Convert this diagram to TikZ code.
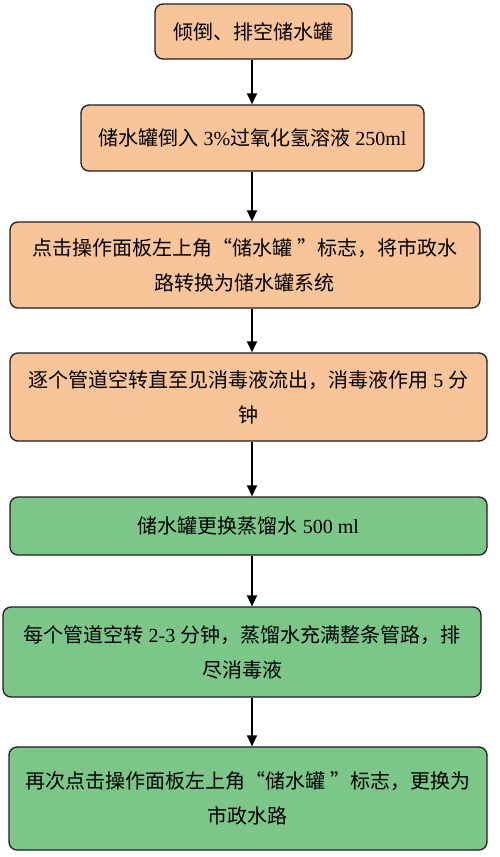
\documentclass[tikz,border=0pt]{standalone}
\usepackage{fontspec}
\setmainfont{Liberation Serif}
\newfontfamily\cjk{Noto Sans CJK SC}
\usetikzlibrary{arrows.meta}
\definecolor{peach}{HTML}{F8C49A}
\definecolor{leaf}{HTML}{7DC68A}
\definecolor{edge}{HTML}{1E1E1E}
\tikzset{
  stepbox/.style={draw=edge, line width=1.3pt, rounded corners=8pt, inner sep=0pt,
    align=center, text=black, font=\fontsize{20pt}{35pt}\selectfont},
  orangebox/.style={stepbox, fill=peach},
  greenbox/.style={stepbox, fill=leaf},
  flow/.style={draw=black, line width=1.4pt, -{Triangle[length=11pt,width=10pt]}}
}
\begin{document}
\begin{tikzpicture}[x=1pt,y=-1pt]
\fill[white] (0,0) rectangle (500,857);
\useasboundingbox (0,0) rectangle (500,857);
\coordinate (ax) at (252,0);

\node[orangebox, minimum width=197pt, minimum height=55pt] (b1) at (253.5,31.5)
  {\cjk 倾倒、排空储水罐};
\node[orangebox, minimum width=343pt, minimum height=66pt] (b2) at (252.5,138)
  {{\cjk 储水罐倒入} 3\%{\cjk 过氧化氢溶液} 250ml};
\node[orangebox, minimum width=470pt, minimum height=86pt] (b3) at (245,265)
  {{\cjk 点击操作面板左上角“储水罐 ”标志，将市政水}\\{\cjk 路转换为储水罐系统}};
\node[orangebox, minimum width=477pt, minimum height=88pt] (b4) at (248.5,397)
  {{\cjk 逐个管道空转直至见消毒液流出，消毒液作用} 5 {\cjk 分}\\{\cjk 钟}};
\node[greenbox, minimum width=477pt, minimum height=58pt] (b5) at (248.5,526)
  {{\cjk 储水罐更换蒸馏水} 500 ml};
\node[greenbox, minimum width=478pt, minimum height=90pt] (b6) at (242,652)
  {{\cjk 每个管道空转} 2-3 {\cjk 分钟，蒸馏水充满整条管路，排}\\{\cjk 尽消毒液}};
\node[greenbox, minimum width=478pt, minimum height=103pt] (b7) at (248,798.5)
  {{\cjk 再次点击操作面板左上角“储水罐 ”标志，更换为}\\{\cjk 市政水路}};

\draw[flow] (b1.south -| ax) -- (b2.north -| ax);
\draw[flow] (b2.south -| ax) -- (b3.north -| ax);
\draw[flow] (b3.south -| ax) -- (b4.north -| ax);
\draw[flow] (b4.south -| ax) -- (b5.north -| ax);
\draw[flow] (b5.south -| ax) -- (b6.north -| ax);
\draw[flow] (b6.south -| ax) -- (b7.north -| ax);
\end{tikzpicture}
\end{document}
